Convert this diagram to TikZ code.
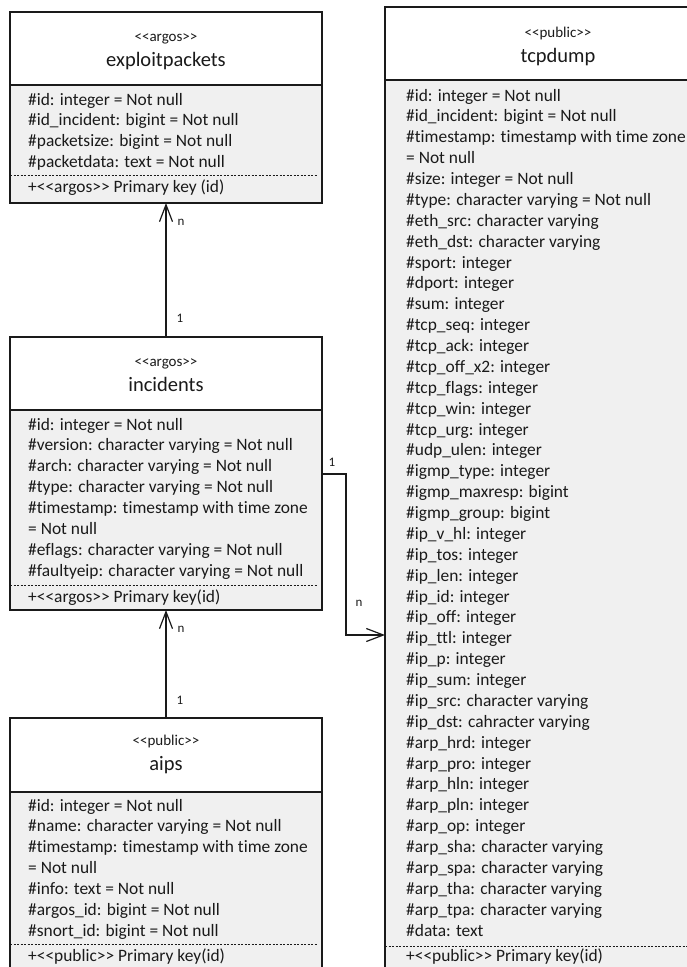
\documentclass[tikz,border=0pt]{standalone}
\usepackage{fontspec}
\setmainfont{Carlito}[Ligatures={TeXOff,NoCommon}]
\usetikzlibrary{arrows.meta}
\definecolor{ink}{HTML}{1A1A1A}
\definecolor{bodyfill}{HTML}{F0F0F0}
\tikzset{
  frame/.style={draw=ink, line width=1.2pt, anchor=north west, inner sep=0pt, outer sep=0pt},
  headbox/.style={frame, fill=white},
  bodybox/.style={frame, fill=bodyfill},
  stereo/.style={anchor=base, inner sep=0pt, text=ink, font=\fontsize{15}{17}\selectfont},
  title/.style={anchor=base, inner sep=0pt, text=ink, font=\fontsize{20.5}{24}\selectfont},
  row/.style={anchor=base west, inner sep=0pt, text=ink, font=\fontsize{17.4}{21}\selectfont},
  sep/.style={draw=ink, line width=0.8pt, dash pattern=on 2pt off 1.5pt},
  assoc/.style={draw=ink, line width=1.2pt, -{Straight Barb[length=17pt,width=13pt,line width=1.2pt]}},
  mult/.style={anchor=center, inner sep=0pt, text=ink, font=\fontsize{13}{15}\selectfont}
}
\begin{document}
\begin{tikzpicture}[x=1pt,y=-1pt]
\useasboundingbox (0,0) rectangle (687,967);
\clip (0,0) rectangle (687,967);
\fill[white] (0,0) rectangle (687,967);

% ---------- exploitpackets ----------
\node[headbox, minimum width=312pt, minimum height=73pt] (exph) at (10,12) {};
\node[bodybox, minimum width=312pt, minimum height=118pt] (expb) at (10,85) {};
\node[stereo] (exps) at (166,41) {<<argos>>};
\node[title] (expt) at (166,66) {exploitpackets};
\foreach \t [count=\i from 0] in {\#id: integer = Not null,
  \#id\_incident: bigint = Not null,
  \#packetsize: bigint = Not null,
  \#packetdata: text = Not null}
  \node[row] (exp-r\i) at (28,105+\i*20.875) {\t};
\draw[sep] (10,175) -- (318,175);
\node[row] (exp-pk) at (28,192) {+<<argos>> Primary key (id)};

% ---------- incidents ----------
\node[headbox, minimum width=312pt, minimum height=73pt] (inch) at (10,337) {};
\node[bodybox, minimum width=312pt, minimum height=200pt] (incb) at (10,410) {};
\node[stereo] (incs) at (166,366) {<<argos>>};
\node[title] (inct) at (166,391) {incidents};
\foreach \t [count=\i from 0] in {\#id: integer = Not null,
  \#version: character varying = Not null,
  \#arch: character varying = Not null,
  \#type: character varying = Not null,
  \#timestamp: timestamp with time zone,
  = Not null,
  \#eflags: character varying = Not null,
  \#faultyeip: character varying = Not null}
  \node[row] (inc-r\i) at (28,430+\i*20.875) {\t};
\draw[sep] (10,585) -- (318,585);
\node[row] (inc-pk) at (28,602) {+<<argos>> Primary key(id)};

% ---------- aips ----------
\node[headbox, minimum width=312pt, minimum height=74pt] (aiph) at (10,718) {};
\node[bodybox, minimum width=312pt, minimum height=200pt] (aipb) at (10,792) {};
\node[stereo] (aips) at (166,745) {<<public>>};
\node[title] (aipt) at (166,770) {aips};
\foreach \t [count=\i from 0] in {\#id: integer = Not null,
  \#name: character varying = Not null,
  \#timestamp: timestamp with time zone,
  = Not null,
  \#info: text = Not null,
  \#argos\_id: bigint = Not null,
  \#snort\_id: bigint = Not null}
  \node[row] (aip-r\i) at (28,811+\i*20.875) {\t};
\draw[sep] (10,944) -- (318,944);
\node[row] (aip-pk) at (28,961) {+<<public>> Primary key(id)};

% ---------- tcpdump ----------
\node[headbox, minimum width=350pt, minimum height=73pt] (tcph) at (385,7) {};
\node[bodybox, minimum width=350pt, minimum height=920pt] (tcpb) at (385,80) {};
\node[stereo] (tcps) at (558,37) {<<public>>};
\node[title] (tcpt) at (558,62) {tcpdump};
\foreach \t [count=\i from 0] in {\#id: integer = Not null,
  \#id\_incident: bigint = Not null,
  \#timestamp: timestamp with time zone,
  = Not null,
  \#size: integer = Not null,
  \#type: character varying = Not null,
  \#eth\_src: character varying,
  \#eth\_dst: character varying,
  \#sport: integer,
  \#dport: integer,
  \#sum: integer,
  \#tcp\_seq: integer,
  \#tcp\_ack: integer,
  \#tcp\_off\_x2: integer,
  \#tcp\_flags: integer,
  \#tcp\_win: integer,
  \#tcp\_urg: integer,
  \#udp\_ulen: integer,
  \#igmp\_type: integer,
  \#igmp\_maxresp: bigint,
  \#igmp\_group: bigint,
  \#ip\_v\_hl: integer,
  \#ip\_tos: integer,
  \#ip\_len: integer,
  \#ip\_id: integer,
  \#ip\_off: integer,
  \#ip\_ttl: integer,
  \#ip\_p: integer,
  \#ip\_sum: integer,
  \#ip\_src: character varying,
  \#ip\_dst: cahracter varying,
  \#arp\_hrd: integer,
  \#arp\_pro: integer,
  \#arp\_hln: integer,
  \#arp\_pln: integer,
  \#arp\_op: integer,
  \#arp\_sha: character varying,
  \#arp\_spa: character varying,
  \#arp\_tha: character varying,
  \#arp\_tpa: character varying,
  \#data: text}
  \node[row] (tcp-r\i) at (406,101+\i*20.875) {\t};
\draw[sep] (385,946) -- (687,946);
\node[row] (tcp-pk) at (406,961) {+<<public>> Primary key(id)};

% ---------- associations ----------
\draw[assoc] (inch.north) -- (expb.south);
\node[mult] (m1a) at (180,318) {1};
\node[mult] (m1b) at (181,222) {n};

\draw[assoc] (aiph.north) -- (incb.south);
\node[mult] (m2a) at (180,700) {1};
\node[mult] (m2b) at (181,629) {n};

\coordinate (bendA) at (346,474);
\coordinate (bendB) at (346,635);
\draw[assoc] (incb.east |- bendA) -- (bendA) -- (bendB) -- (tcpb.west |- bendB);
\node[mult] (m3a) at (332,462) {1};
\node[mult] (m3b) at (359,603) {n};
\end{tikzpicture}
\end{document}
